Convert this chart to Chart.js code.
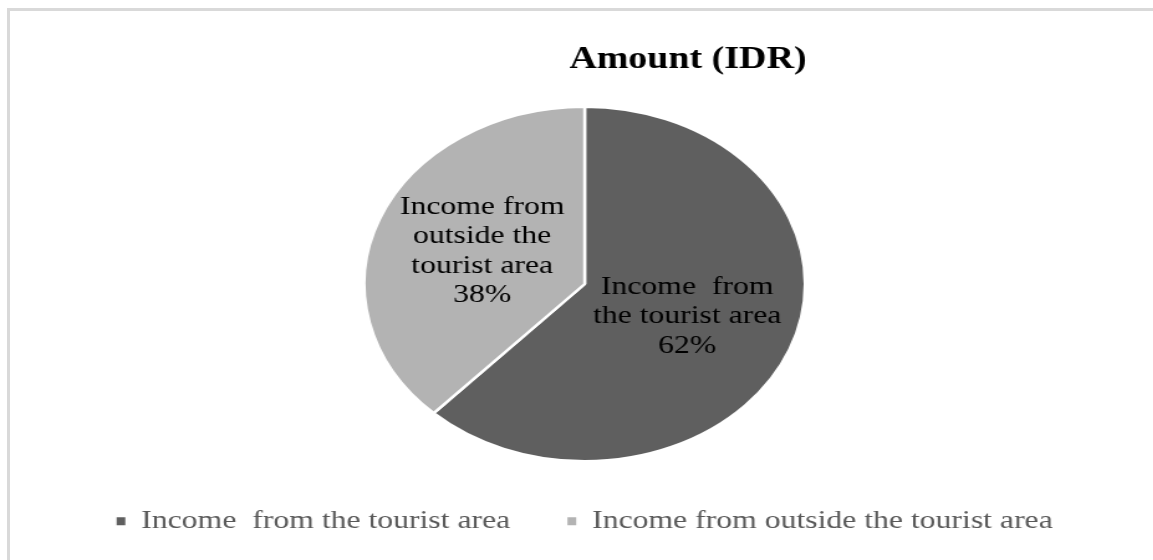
<!DOCTYPE html>
<html>
<head>
<meta charset="utf-8">
<title>Amount (IDR)</title>
<script src="https://cdn.jsdelivr.net/npm/chart.js@4.4.1/dist/chart.umd.min.js"></script>
<style>
  html, body { margin: 0; padding: 0; background: #fff; overflow: hidden; }
  body { width: 1153px; height: 560px; position: relative; }
  .frame {
    position: absolute; left: 7px; top: 8px; width: 1200px; height: 600px;
    border-top: 3px solid #d9d9d9; border-left: 3px solid #d9d9d9;
  }
  /* the whole figure is drawn wider than tall */
  .stretch { position: absolute; left: 0; top: 0; transform: scaleX(1.244); transform-origin: 0 0; }
</style>
</head>
<body>
<div class="frame"></div>
<div class="stretch"><canvas id="incomeChart" width="927" height="560"></canvas></div>
<script>
const categories = ['Income  from the tourist area', 'Income from outside the tourist area'];
const shares = [62, 38];
const sliceColors = ['#5f5f5f', '#b3b3b3'];
const chartTitle = 'Amount (IDR)';

const serif = "'Liberation Serif', 'Times New Roman', serif";

// break a label into lines no wider than maxWidth (keeps double spaces)
function wrapText(ctx, text, maxWidth) {
    const words = text.split(' ');
    const lines = [];
    let line = null;
    words.forEach(w => {
        const test = line === null ? w : line + ' ' + w;
        if (line !== null && w !== '' && ctx.measureText(test).width > maxWidth) {
            lines.push(line.trim());
            line = w;
        } else {
            line = test;
        }
    });
    if (line !== null) lines.push(line.trim());
    return lines;
}

// name + percentage written inside each slice
const sliceLabels = {
    id: 'sliceLabels',
    afterDatasetsDraw(chart) {
        const ctx = chart.ctx;
        const values = chart.data.datasets[0].data;
        const total = values.reduce((a, b) => a + b, 0);
        const lineHeight = 29.3;
        ctx.save();
        ctx.font = '25.5px ' + serif;
        ctx.fillStyle = '#000';
        ctx.textAlign = 'center';
        ctx.textBaseline = 'middle';
        chart.getDatasetMeta(0).data.forEach((arc, i) => {
            const pos = arc.tooltipPosition();
            const lines = wrapText(ctx, chart.data.labels[i], 160);
            lines.push(Math.round(values[i] / total * 100) + '%');
            const y0 = pos.y - (lines.length - 1) * lineHeight / 2;
            lines.forEach((t, k) => ctx.fillText(t, pos.x, y0 + k * lineHeight));
        });
        ctx.restore();
    }
};

// title sits a bit right of the pie centre
const offsetTitle = {
    id: 'offsetTitle',
    afterDraw(chart, args, opts) {
        const {ctx, chartArea} = chart;
        ctx.save();
        ctx.font = 'bold 30.5px ' + serif;
        ctx.fillStyle = '#000';
        ctx.textAlign = 'center';
        ctx.textBaseline = 'alphabetic';
        ctx.fillText(opts.text, (chartArea.left + chartArea.right) / 2 + opts.shiftX, opts.baseline);
        ctx.restore();
    }
};

const ctx = document.getElementById('incomeChart').getContext('2d');
new Chart(ctx, {
    type: 'pie',
    data: {
        labels: categories,
        datasets: [{
            data: shares,
            backgroundColor: sliceColors,
            borderColor: '#ffffff',
            borderWidth: 2.5,
            hoverOffset: 0
        }]
    },
    options: {
        responsive: false,
        animation: false,
        devicePixelRatio: 1,
        layout: { padding: { top: 105.5, bottom: 16, left: 13, right: 0 } },
        plugins: {
            title: { display: false },
            tooltip: { enabled: false },
            offsetTitle: { text: chartTitle, shiftX: 83, baseline: 68 },
            legend: {
                position: 'bottom',
                labels: {
                    boxWidth: 7,
                    boxHeight: 8,
                    padding: 46,
                    color: '#595959',
                    font: { family: serif, size: 25.5 },
                    generateLabels(chart) {
                        return Chart.overrides.doughnut.plugins.legend.labels.generateLabels(chart)
                            .map(item => Object.assign(item, { lineWidth: 0 }));
                    }
                }
            }
        }
    },
    plugins: [sliceLabels, offsetTitle]
});
</script>
</body>
</html>
